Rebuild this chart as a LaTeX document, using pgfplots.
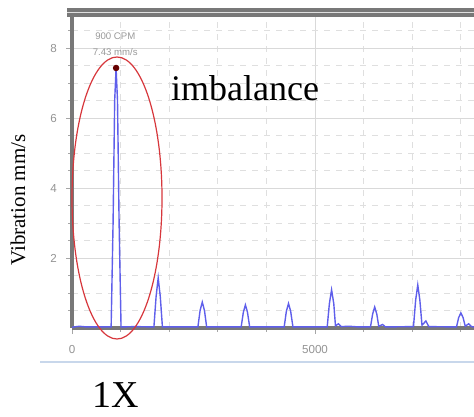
\documentclass[border=0pt]{standalone}
\usepackage{pgfplots}
\pgfplotsset{compat=1.18}
\usepackage{fontspec}
\setmainfont{Liberation Serif}
\setsansfont{Liberation Sans}
\definecolor{specblue}{RGB}{95,95,235}
\definecolor{ellred}{RGB}{215,55,60}
\definecolor{sepblue}{RGB}{200,215,235}
\definecolor{framegray}{RGB}{120,120,120}
\begin{document}
\begin{tikzpicture}
\useasboundingbox (0,0) rectangle (237pt,208pt);
\begin{axis}[
    at={(36pt,44pt)}, anchor=south west,
    scale only axis,
    width=201pt, height=158pt,
    xmin=0, xmax=8270,
    ymin=0, ymax=9.03,
    axis x line*=bottom,
    axis y line*=left,
    axis line style={framegray, line width=2.2pt},
    xtick={0,5000},
    minor xtick={1000,2000,3000,4000,6000,7000,8000},
    ytick={2,4,6,8},
    minor ytick={0.5,1,1.5,2.5,3,3.5,4.5,5,5.5,6.5,7,7.5,8.5},
    tick align=outside,
    major tick length=3pt,
    minor tick length=1.8pt,
    tick style={gray!70, line width=0.5pt},
    grid=both,
    major grid style={gray!30, line width=0.4pt},
    minor grid style={gray!25, dashed, line width=0.4pt},
    ticklabel style={font=\sffamily\fontsize{5.8}{6}\selectfont, text=gray!85},
    xticklabel style={/pgf/number format/1000 sep={}, yshift=-2pt},
    yticklabel style={xshift=-1pt},
    scaled x ticks=false,
    /pgf/number format/assume math mode=true,
    clip=false,
]
\addplot[specblue, line width=0.7pt] table {
x y
0 0.02
150 0.05
300 0.03
805 0.03
845 3.0
878 6.5
907 7.43
936 6.5
969 3.0
1009 0.03
1300 0.04
1685 0.03
1730 0.9
1773 1.43
1816 0.9
1860 0.03
2590 0.03
2635 0.5
2680 0.74
2725 0.5
2770 0.03
3480 0.03
3525 0.45
3567 0.66
3610 0.45
3655 0.03
4365 0.03
4410 0.48
4454 0.70
4498 0.48
4545 0.03
5250 0.03
5295 0.7
5340 1.09
5385 0.7
5420 0.06
5480 0.12
5540 0.04
5700 0.05
5900 0.03
6140 0.03
6185 0.4
6227 0.6
6270 0.4
6310 0.05
6390 0.1
6450 0.03
7000 0.04
7025 0.04
7070 0.8
7113 1.23
7156 0.8
7200 0.08
7280 0.2
7340 0.04
7910 0.03
7955 0.3
8000 0.43
8045 0.3
8090 0.05
8160 0.12
8220 0.04
8270 0.03
};
\addplot[only marks, mark=*, mark size=1.4pt, color=black!60!red] coordinates {(907,7.43)};
\node[font=\sffamily\fontsize{4.8}{5}\selectfont, text=gray!80] at (axis cs:890,8.35) {900 CPM};
\node[font=\sffamily\fontsize{4.8}{5}\selectfont, text=gray!80] at (axis cs:890,7.88) {7.43 mm/s};
\end{axis}
% top frame band
\fill[framegray] (33.5pt,199.5pt) rectangle (237pt,204pt);
\draw[gray!25, line width=0.8pt] (33.5pt,201.8pt) -- (237pt,201.8pt);
% annotations
\draw[ellred, line width=0.6pt] (58.5pt,109pt) ellipse [x radius=22.5pt, y radius=70.5pt];
\node[font=\fontsize{18}{20}\selectfont] at (122.5pt,164pt) {imbalance};
\node[rotate=90, font=\fontsize{10.5}{12}\selectfont] at (9pt,108pt) {Vibration mm/s};
\draw[sepblue, line width=0.8pt] (20pt,27pt) -- (237pt,27pt);
\node[font=\fontsize{19}{21}\selectfont] at (58pt,10.5pt) {1X};
\end{tikzpicture}
\end{document}
